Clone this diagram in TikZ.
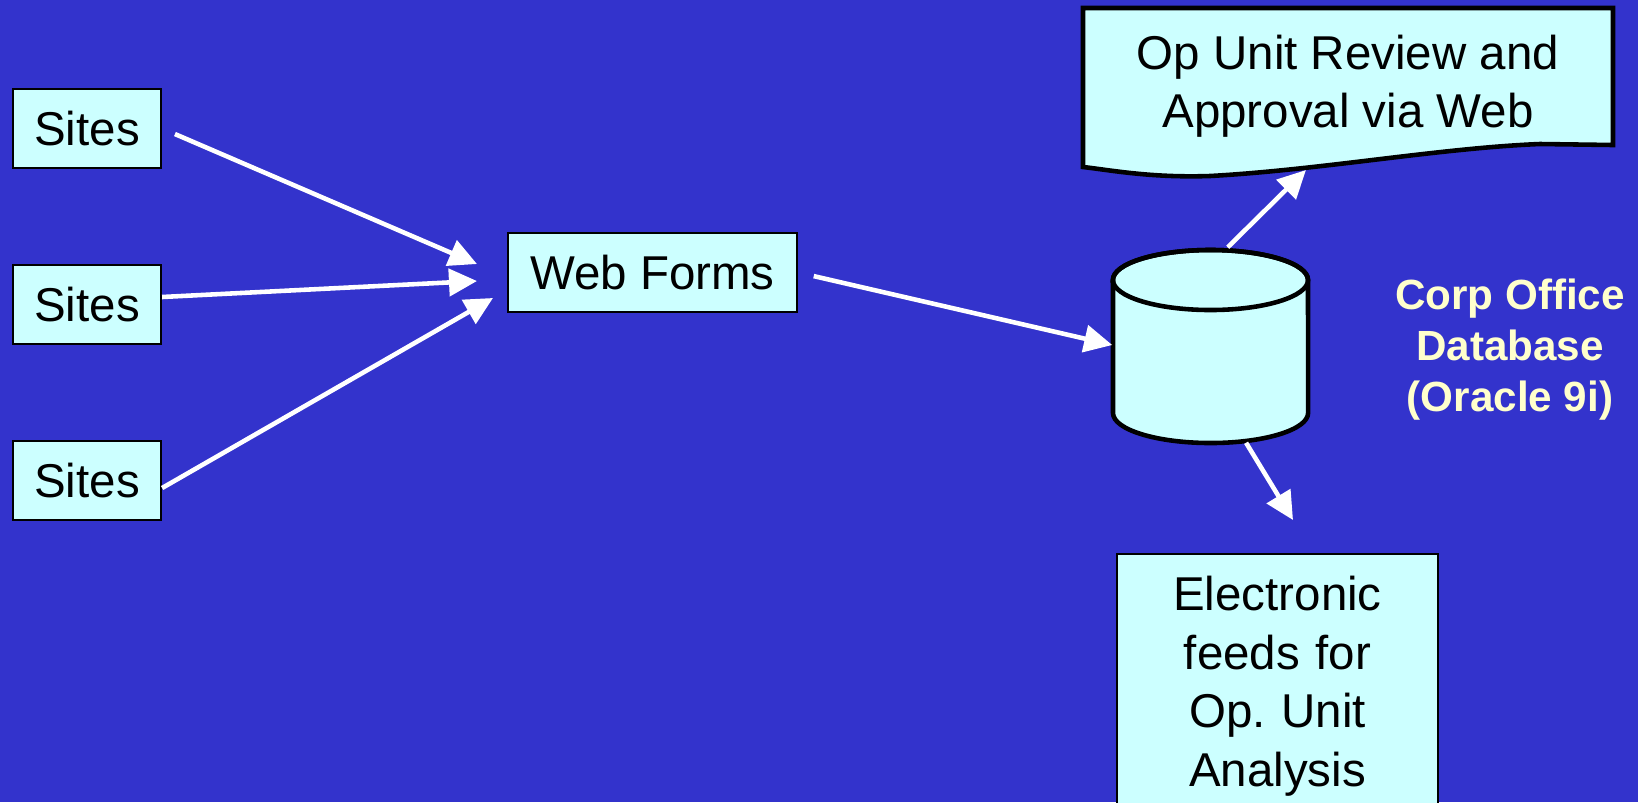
\documentclass[tikz,border=0pt]{standalone}
\usepackage{fontspec}
\setmainfont{Liberation Sans}
\usetikzlibrary{arrows.meta}

\definecolor{slideblue}{RGB}{51,51,204}
\definecolor{boxcyan}{RGB}{204,255,255}
\definecolor{labelyellow}{RGB}{255,255,204}

\begin{document}
\begin{tikzpicture}[x=0.01cm,y=-0.01cm,
    box/.style={draw=black,fill=boxcyan,line width=0.6pt,inner sep=0pt,
        font=\fontsize{13.5}{16.6}\selectfont},
    flow/.style={draw=white,line width=1.3pt,-{Triangle[length=0.28cm,width=0.27cm]}}]
\fill[slideblue] (0,0) rectangle (1638,802);
\useasboundingbox (0,0) rectangle (1638,802);

% left column
\foreach \n/\y in {1/128.5,2/304.5,3/480.5} {
    \node[box,minimum width=1.48cm,minimum height=0.79cm] (site\n) at (87,\y) {Sites};
}
\node[box,minimum width=2.89cm,minimum height=0.79cm] (web) at (652.5,272.5) {Web Forms};

% database
\node[inner sep=0pt,minimum width=1.95cm,minimum height=1.94cm] (db) at (1210.5,345) {};
\draw[line width=1.3pt,fill=boxcyan] (1113,280) -- (1113,413)
    arc[start angle=180,end angle=360,x radius=0.975cm,y radius=0.3cm] -- (1308,280)
    arc[start angle=0,end angle=180,x radius=0.975cm,y radius=0.3cm] -- cycle;
\draw[line width=1.3pt] (1210.5,280) ellipse[x radius=0.975cm,y radius=0.3cm];
\node[text=labelyellow,font=\bfseries\fontsize{12}{14.5}\selectfont,align=center] (corp) at (1510,350)
    {Corp Office\\Database\\(Oracle 9i)};

% review sheet
\draw[line width=1.3pt,fill=boxcyan] (1083,8) -- (1613,8) -- (1613,145) -- (1540,144)
    .. controls (1440,148) and (1320,170) .. (1210,176)
    .. controls (1150,178) and (1110,170) .. (1083,167) -- cycle;
\node[align=center,font=\fontsize{13.5}{16.6}\selectfont] (review) at (1348,86)
    {Op Unit Review and\\Approval via Web};

% feeds
\node[box,anchor=north,minimum width=3.21cm,text width=3.0cm,align=center,inner ysep=0.224cm] (feeds)
    at (1277.5,553) {Electronic\\feeds for\\Op.\ Unit\\Analysis};

% arrows
\coordinate (tip1) at (477,264);
\coordinate (tip2) at (477,281);
\coordinate (tip3) at (493,298);
\coordinate (tip5) at (1306,170);
\coordinate (tip6) at (1293,520);
\draw[flow,shorten <=0.14cm] (site1.east) -- (tip1);
\draw[flow] ([yshift=0.075cm]site2.east) -- (tip2);
\draw[flow] ([yshift=-0.075cm]site3.east) -- (tip3);
\draw[flow,shorten <=0.16cm] (web.east) -- (db.west);
\draw[flow] (db.80) -- (tip5);
\draw[flow] (db.-70) -- (tip6);
\end{tikzpicture}
\end{document}
